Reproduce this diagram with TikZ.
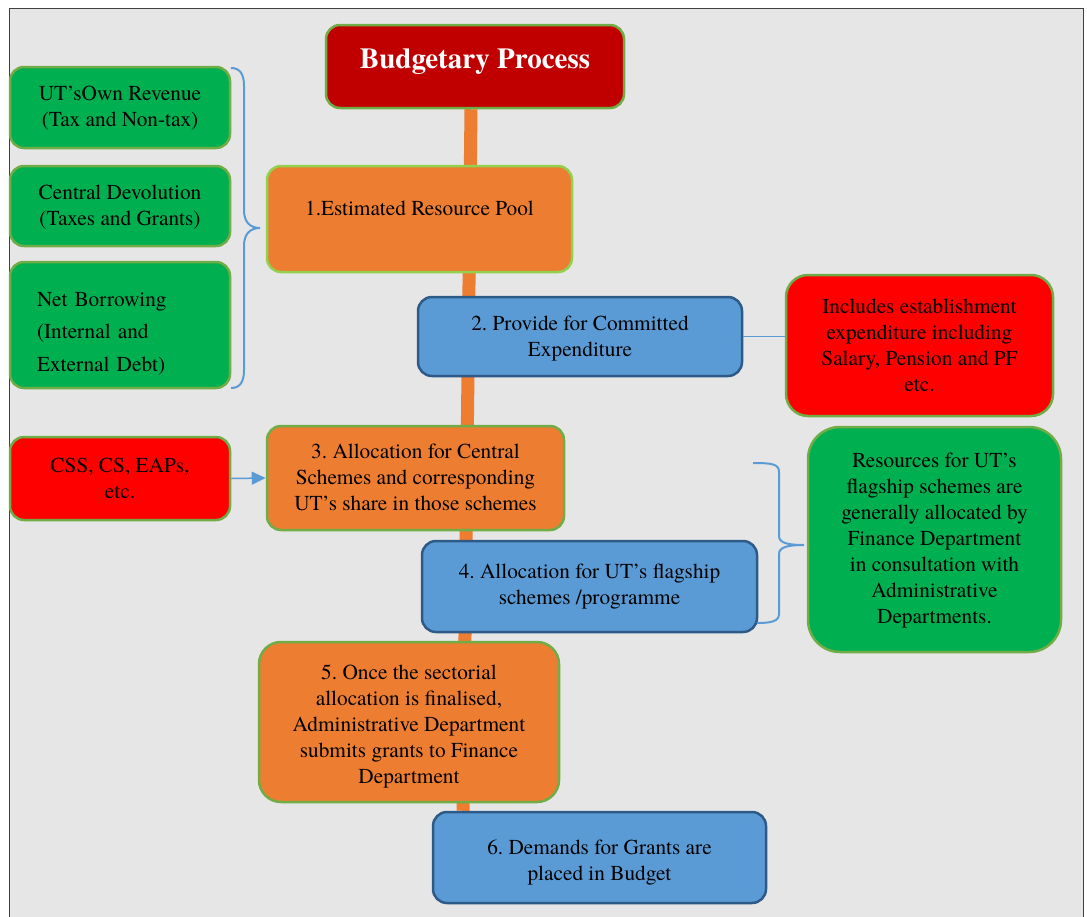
\documentclass[tikz,border=0pt]{standalone}
\usepackage{fontspec}
\setmainfont{TeX Gyre Termes}
\frenchspacing
\usetikzlibrary{arrows.meta,backgrounds}
\definecolor{bggray}{HTML}{E7E6E6}
\definecolor{orng}{HTML}{ED7D31}
\definecolor{grn}{HTML}{00B050}
\definecolor{grnb}{HTML}{70AD47}
\definecolor{lgrnb}{HTML}{92D050}
\definecolor{redf}{HTML}{FF0000}
\definecolor{dred}{HTML}{C00000}
\definecolor{bluef}{HTML}{5B9BD5}
\definecolor{blueb}{HTML}{2E5A88}
\begin{document}
\begin{tikzpicture}[x=1pt,y=-1pt,
  every node/.style={font=\frenchspacing\fontsize{21.3}{26}\selectfont, align=center, inner sep=0pt},
  box/.style={draw, line width=2.5pt, rounded corners=14pt},
  gbox/.style={box, fill=grn, draw=grnb},
  obox/.style={box, fill=orng, draw=grnb},
  bbox/.style={box, fill=bluef, draw=blueb},
  rbox/.style={box, fill=redf, draw=grnb},
  sz/.style 2 args={minimum width=#1pt, minimum height=#2pt},
  trunk/.style={draw=orng, line width=13pt},
  thinblue/.style={draw=bluef, line width=1pt},
  bracestyle/.style={draw=bluef, line width=2pt}
]
\useasboundingbox (0,0) rectangle (1087,916);

\node[box, fill=dred, draw=grnb, sz={298}{83}, text=white, font=\fontsize{29}{33}\bfseries\selectfont, text height=20pt, text depth=17pt] (title) at (475,66.5) {Budgetary Process};

\node[gbox, sz={220}{81}, text height=42pt, text depth=4.6pt] (g1) at (120,107.5) {UT’sOwn Revenue\\(Tax and Non-tax)};
\node[gbox, sz={220}{80}, text height=43pt, text depth=4.6pt] (g2) at (120,206) {Central Devolution\\(Taxes and Grants)};
\node[gbox, sz={220}{126}, text width=166pt, inner xsep=27pt, align=left, font=\frenchspacing\fontsize{21.3}{32.5}\selectfont, text height=32pt, text depth=70pt] (g3) at (120,325) {Net Borrowing\\(Internal and\\External Debt)};

\node[obox, draw=lgrnb, sz={305}{106}, text height=15pt, text depth=23pt] (b1) at (419.5,219) {1.Estimated Resource Pool};
\node[bbox, sz={324}{79}, text height=44pt, text depth=4.6pt] (b2) at (580,336.5) {2. Provide for Committed\\Expenditure};
\node[rbox, sz={267}{141}, rounded corners=22pt] (incl) at (919.5,345.5) {Includes establishment\\expenditure including\\Salary, Pension and PF\\etc.};

\node[rbox, sz={220}{83}] (css) at (120,478.5) {CSS, CS, EAPs,\\etc.};
\node[obox, sz={297}{104}, text height=70pt, text depth=4.6pt] (b3) at (415.5,478) {3. Allocation for Central\\Schemes and corresponding\\UT’s share in those schemes};
\node[bbox, sz={335}{91}] (b4) at (589.5,586.5) {4. Allocation for UT’s flagship\\schemes /programme};
\node[gbox, sz={253}{225}, rounded corners=32pt, text height=173pt, text depth=4.6pt] (res) at (934.5,539.5) {Resources for UT’s\\flagship schemes are\\generally allocated by\\Finance Department\\in consultation with\\Administrative\\Departments.};

\node[obox, sz={300}{160}, rounded corners=22pt, text height=127pt, text depth=4.6pt] (b5) at (409,722) {5. Once the sectorial\\allocation is finalised,\\Administrative Department\\submits grants to Finance\\Department};
\node[bbox, sz={333}{91}, text height=50pt, text depth=4.6pt] (b6) at (599.5,857.5) {6. Demands for Grants are\\placed in Budget};

\coordinate (lb1) at (231,68);
\coordinate (lb2) at (231,388);
\coordinate (rb1) at (753,463);
\coordinate (rb2) at (757,623);

\begin{scope}[on background layer]
  \fill[bggray, draw=black!75, line width=1pt] (9,8) rectangle (1083,930);
  \draw[trunk] ([xshift=-4pt]title.south) -- ([xshift=-136.5pt]b6.north);
\end{scope}

\draw[thinblue] (b2.east) -- (b2.east -| incl.west);
\draw[thinblue, line width=1.5pt, -{Triangle[length=14pt,width=13pt]}] (css.east) -- (b3.west);
% left brace
\draw[bracestyle] (lb1) .. controls (240,68) and (244,74) .. (244,86)
  -- (244,210) .. controls (244,222) and (250,228) .. (260,228)
  .. controls (250,228) and (244,234) .. (244,246)
  -- (244,370) .. controls (244,382) and (240,388) .. (lb2);
% right brace
\draw[bracestyle] (rb1) .. controls (772,463) and (779,464) .. (779,472)
  -- (779,536) .. controls (779,543) and (788,545) .. (804,545)
  .. controls (788,545) and (779,547) .. (779,554)
  -- (779,614) .. controls (779,621) and (772,623) .. (rb2);
\end{tikzpicture}
\end{document}
